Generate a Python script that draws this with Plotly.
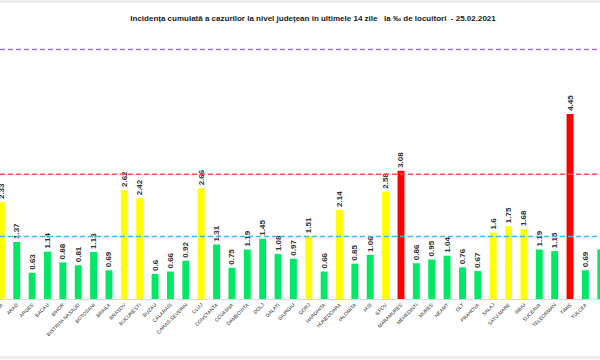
import plotly.graph_objects as go

counties = ["ALBA", "ARAD", "ARGES", "BACAU", "BIHOR", "BISTRITA NASAUD", "BOTOSANI",
            "BRAILA", "BRASOV", "BUCURESTI", "BUZAU", "CALARASI", "CARAS-SEVERIN", "CLUJ",
            "CONSTANTA", "COVASNA", "DAMBOVITA", "DOLJ", "GALATI", "GIURGIU", "GORJ",
            "HARGHITA", "HUNEDOARA", "IALOMITA", "IASI", "ILFOV", "MARAMURES", "MEHEDINTI",
            "MURES", "NEAMT", "OLT", "PRAHOVA", "SALAJ", "SATU MARE", "SIBIU", "SUCEAVA",
            "TELEORMAN", "TIMIS", "TULCEA", "VALCEA"]
incidence = [2.33, 1.37, 0.63, 1.14, 0.88, 0.81, 1.13,
             0.69, 2.62, 2.42, 0.6, 0.66, 0.92, 2.66,
             1.31, 0.75, 1.19, 1.45, 1.08, 0.97, 1.51,
             0.66, 2.14, 0.85, 1.06, 2.58, 3.08, 0.86,
             0.95, 1.04, 0.76, 0.67, 1.6, 1.75, 1.68, 1.19,
             1.15, 4.45, 0.69, 1.19]
thresholds = [1.5, 3.0, 6.0]
threshold_colors = ["#3db8e8", "#ff4d4d", "#a46fd6"]

def bar_color(v):
    if v > 3.0:
        return "#ff0000"
    if v >= 1.5:
        return "#ffff00"
    return "#00e865"

fig = go.Figure()
fig.add_trace(go.Bar(
    x=counties, y=incidence,
    marker=dict(color=[bar_color(v) for v in incidence], line=dict(width=0)),
    width=0.45,
    text=[str(v) for v in incidence],
    texttemplate="<b>%{text}</b>",
    textposition="outside", textangle=-90,
    outsidetextfont=dict(family="Liberation Sans", size=8, color="#333333"),
    constraintext="none", cliponaxis=False,
    hoverinfo="skip",
))

for t, c in zip(thresholds, threshold_colors):
    fig.add_shape(type="line", xref="paper", x0=0, x1=1, yref="y", y0=t, y1=t,
                  line=dict(color=c, width=1.5, dash="5px,3px"))

# light frame lines at top and bottom of image
fig.add_shape(type="line", xref="paper", x0=0, x1=1, yref="paper",
              y0=(299 - 1.5) / 269, y1=(299 - 1.5) / 269, line=dict(color="#e6e6e6", width=2))
fig.add_shape(type="line", xref="paper", x0=0, x1=1, yref="paper",
              y0=(299 - 357.5) / 269, y1=(299 - 357.5) / 269, line=dict(color="#ececec", width=3))

fig.update_layout(
    width=600, height=360,
    margin=dict(l=0, r=0, t=30, b=61, autoexpand=False),
    paper_bgcolor="white", plot_bgcolor="white",
    showlegend=False,
    title=dict(text="<b>Incidența cumulată a cazurilor la nivel județean în ultimele 14 zile   la ‰ de locuitori  - 25.02.2021</b>",
               x=313 / 600, xanchor="center", y=1 - 18 / 360, yanchor="middle",
               font=dict(family="Liberation Sans Narrow, Liberation Sans", size=8, color="#1a1a1a")),
    xaxis=dict(type="category", range=[-0.09, 38.95], showgrid=False, automargin=False,
               tickmode="array", tickvals=counties, ticktext=counties,
               tickangle=-45, tickfont=dict(family="Liberation Sans", size=5, color="#2a2a2a"),
               showline=True, linecolor="#d9d9d9", linewidth=1, ticks=""),
    yaxis=dict(range=[0, 269 / 41.6], visible=False, showgrid=False, automargin=False),
)

fig.write_html("out.html", config={"displayModeBar": False},
               post_script="document.body.style.margin='0';")
